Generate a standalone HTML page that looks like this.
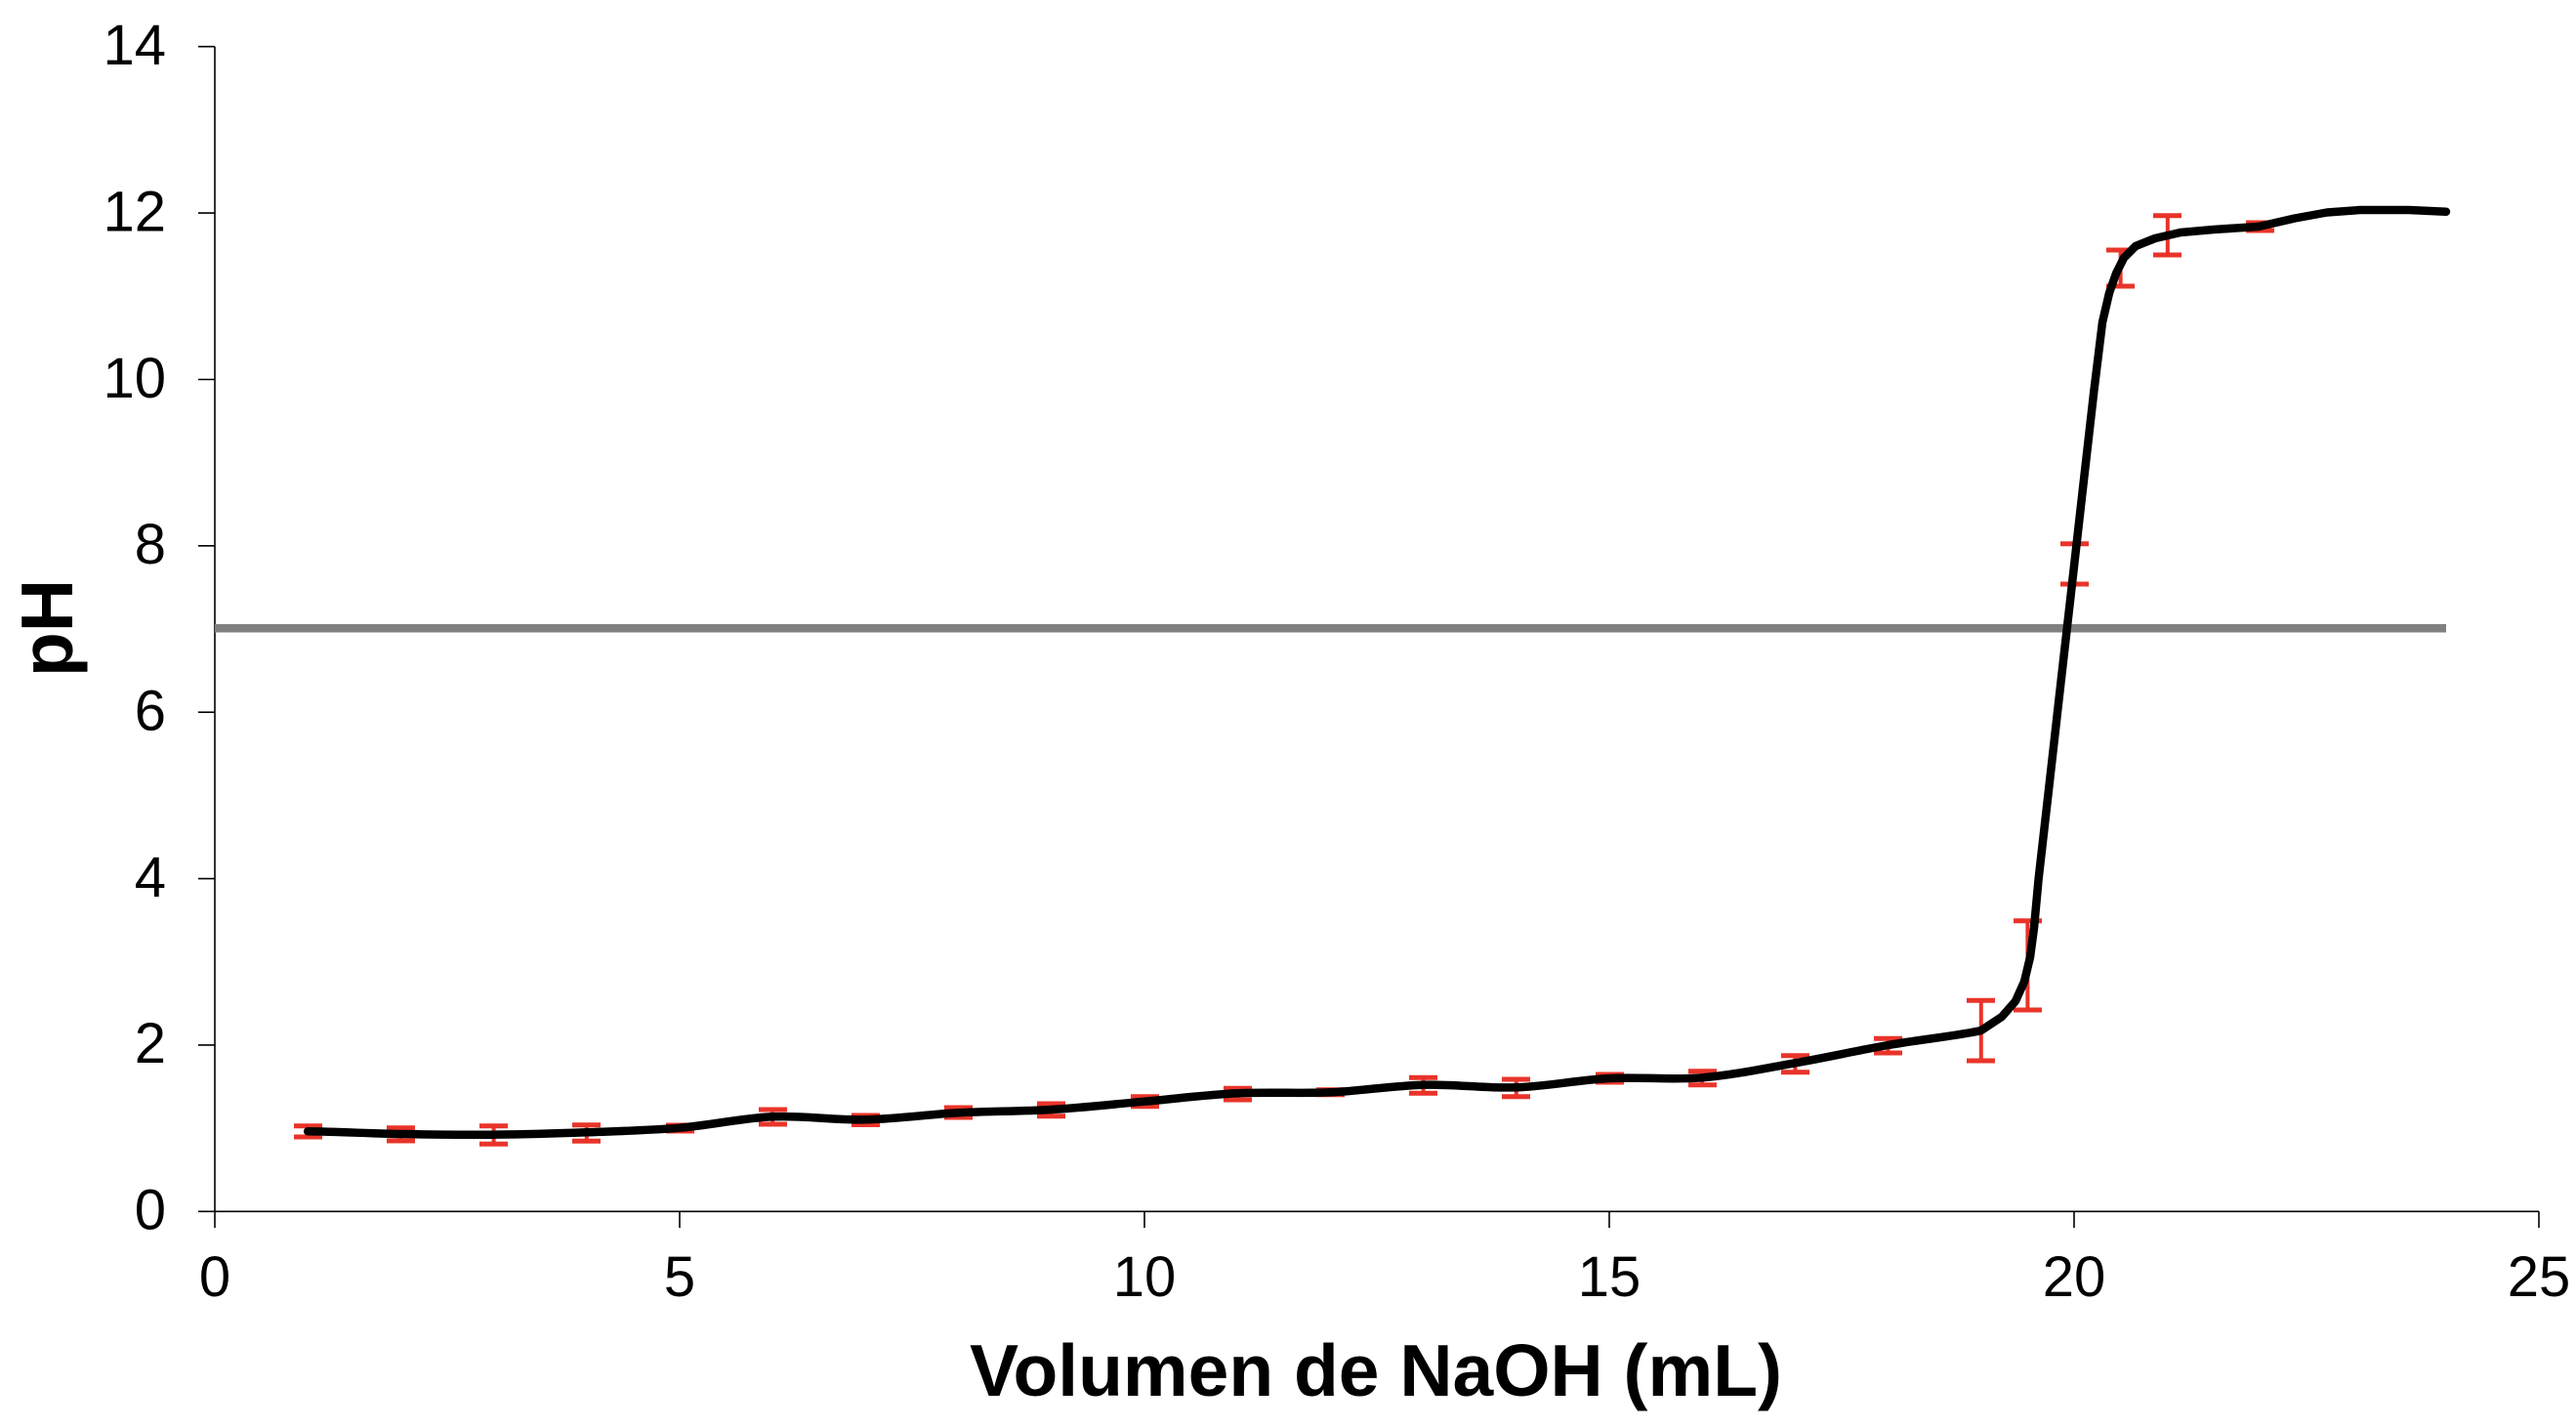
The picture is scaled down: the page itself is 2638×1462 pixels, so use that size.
<!DOCTYPE html>
<html>
<head>
<meta charset="utf-8">
<style>
  html, body { margin: 0; padding: 0; background: #ffffff; }
  svg { display: block; }
  text { font-family: "Liberation Sans", Arial, sans-serif; fill: #000; }
</style>
</head>
<body>
<svg width="2638" height="1462" viewBox="0 0 2638 1462" xmlns="http://www.w3.org/2000/svg">
  <rect x="0" y="0" width="2638" height="1462" fill="#ffffff"/>

  <!-- Axes -->
  <g stroke="#000" stroke-width="1.6" fill="none">
    <line x1="220" y1="47.7" x2="220" y2="1257"/>
    <line x1="203" y1="1240.3" x2="2600" y2="1240.3"/>
    <!-- y ticks -->
    <line x1="203" y1="47.7" x2="220" y2="47.7"/>
    <line x1="203" y1="218.1" x2="220" y2="218.1"/>
    <line x1="203" y1="388.5" x2="220" y2="388.5"/>
    <line x1="203" y1="558.8" x2="220" y2="558.8"/>
    <line x1="203" y1="729.2" x2="220" y2="729.2"/>
    <line x1="203" y1="899.6" x2="220" y2="899.6"/>
    <line x1="203" y1="1069.9" x2="220" y2="1069.9"/>
    <!-- x ticks -->
    <line x1="696" y1="1240.3" x2="696" y2="1257"/>
    <line x1="1172" y1="1240.3" x2="1172" y2="1257"/>
    <line x1="1648" y1="1240.3" x2="1648" y2="1257"/>
    <line x1="2124" y1="1240.3" x2="2124" y2="1257"/>
    <line x1="2600" y1="1240.3" x2="2600" y2="1257"/>
  </g>

  <!-- Y tick labels -->
  <g font-size="58" text-anchor="end">
    <text x="170" y="66">14</text>
    <text x="170" y="236.5">12</text>
    <text x="170" y="407">10</text>
    <text x="170" y="577">8</text>
    <text x="170" y="747.5">6</text>
    <text x="170" y="918">4</text>
    <text x="170" y="1088">2</text>
    <text x="170" y="1258.5">0</text>
  </g>

  <!-- X tick labels -->
  <g font-size="58" text-anchor="middle">
    <text x="220" y="1327">0</text>
    <text x="696" y="1327">5</text>
    <text x="1172" y="1327">10</text>
    <text x="1648" y="1327">15</text>
    <text x="2124" y="1327">20</text>
    <text x="2600" y="1327">25</text>
  </g>

  <!-- Axis titles -->
  <text x="1409" y="1429" font-size="75" font-weight="bold" text-anchor="middle">Volumen de NaOH (mL)</text>
  <text transform="translate(74,643) rotate(-90)" font-size="75" font-weight="bold" text-anchor="middle">pH</text>

  <!-- pH 7 reference line -->
  <line x1="220" y1="643.3" x2="2505" y2="643.3" stroke="#808080" stroke-width="8.5"/>

  <!-- Error bars -->
  <g stroke="#E9342A" fill="none">
    <g stroke-width="4">
      <line x1="315.2" y1="1152.7" x2="315.2" y2="1164"/>
      <line x1="410.4" y1="1154.7" x2="410.4" y2="1168"/>
      <line x1="505.6" y1="1152.7" x2="505.6" y2="1171.3"/>
      <line x1="600.8" y1="1151.7" x2="600.8" y2="1168.3"/>
      <line x1="696" y1="1152" x2="696" y2="1158"/>
      <line x1="791.2" y1="1136" x2="791.2" y2="1151"/>
      <line x1="886.4" y1="1142" x2="886.4" y2="1151.5"/>
      <line x1="981.6" y1="1134" x2="981.6" y2="1144"/>
      <line x1="1076.8" y1="1130" x2="1076.8" y2="1142.7"/>
      <line x1="1172" y1="1122.7" x2="1172" y2="1132.7"/>
      <line x1="1267.2" y1="1114.3" x2="1267.2" y2="1126"/>
      <line x1="1362.4" y1="1115.7" x2="1362.4" y2="1120.8"/>
      <line x1="1457.6" y1="1103.3" x2="1457.6" y2="1119.3"/>
      <line x1="1552.8" y1="1105" x2="1552.8" y2="1122.7"/>
      <line x1="1648" y1="1100" x2="1648" y2="1108"/>
      <line x1="1743.2" y1="1096.7" x2="1743.2" y2="1110.7"/>
      <line x1="1838.4" y1="1080.7" x2="1838.4" y2="1097.7"/>
      <line x1="1933.6" y1="1063.3" x2="1933.6" y2="1078"/>
      <line x1="2028.8" y1="1024.3" x2="2028.8" y2="1086"/>
      <line x1="2076.4" y1="942.7" x2="2076.4" y2="1034"/>
      <line x1="2124.4" y1="556.7" x2="2124.4" y2="598"/>
      <line x1="2171.6" y1="256" x2="2171.6" y2="293"/>
      <line x1="2219.8" y1="220.7" x2="2219.8" y2="261"/>
      <line x1="2314.4" y1="228" x2="2314.4" y2="236"/>
    </g>
    <g stroke-width="5">
      <path d="M301,1152.7h29 M301,1164h29"/>
      <path d="M396,1154.7h29 M396,1168h29"/>
      <path d="M491,1152.7h29 M491,1171.3h29"/>
      <path d="M586,1151.7h29 M586,1168.3h29"/>
      <path d="M682,1152h29 M682,1158h29"/>
      <path d="M777,1136h29 M777,1151h29"/>
      <path d="M872,1142h29 M872,1151.5h29"/>
      <path d="M967,1134h29 M967,1144h29"/>
      <path d="M1062,1130h29 M1062,1142.7h29"/>
      <path d="M1158,1122.7h29 M1158,1132.7h29"/>
      <path d="M1253,1114.3h29 M1253,1126h29"/>
      <path d="M1348,1115.7h29 M1348,1120.8h29"/>
      <path d="M1443,1103.3h29 M1443,1119.3h29"/>
      <path d="M1538,1105h29 M1538,1122.7h29"/>
      <path d="M1634,1100h29 M1634,1108h29"/>
      <path d="M1729,1096.7h29 M1729,1110.7h29"/>
      <path d="M1824,1080.7h29 M1824,1097.7h29"/>
      <path d="M1919,1063.3h29 M1919,1078h29"/>
      <path d="M2014,1024.3h29 M2014,1086h29"/>
      <path d="M2062,942.7h29 M2062,1034h29"/>
      <path d="M2110,556.7h29 M2110,598h29"/>
      <path d="M2157,256h29 M2157,293h29"/>
      <path d="M2205,220.7h29 M2205,261h29"/>
      <path d="M2300,228h29 M2300,236h29"/>
    </g>
  </g>

  <!-- Titration curve -->
  <path fill="none" stroke="#000" stroke-width="8.5" stroke-linejoin="round" stroke-linecap="round"
    d="M315.2,1158.3 C346.9,1158.75 378.7,1160.43 410.4,1161 C442.1,1161.57 473.9,1161.98 505.6,1161.7 C537.3,1161.42 569.1,1160.47 600.8,1159.3 C632.5,1158.13 664.3,1157.37 696,1154.7 C727.7,1152.03 759.5,1144.7 791.2,1143.3 C822.9,1141.9 854.7,1146.97 886.4,1146.3 C918.1,1145.63 949.9,1141.02 981.6,1139.3 C1013.3,1137.58 1045.1,1137.93 1076.8,1136 C1108.5,1134.07 1140.3,1130.48 1172,1127.7 C1203.7,1124.92 1235.5,1120.87 1267.2,1119.3 C1298.9,1117.73 1330.7,1119.73 1362.4,1118.3 C1394.1,1116.87 1425.9,1111.53 1457.6,1110.7 C1489.3,1109.87 1521.1,1114.42 1552.8,1113.3 C1584.5,1112.18 1616.3,1105.67 1648,1104 C1679.7,1102.33 1711.5,1105.92 1743.2,1103.3 C1774.9,1100.68 1806.7,1093.85 1838.4,1088.3 C1870.1,1082.75 1901.9,1075.55 1933.6,1070 C1965.3,1064.45 2009.4,1059.8 2028.8,1055 L2050,1041 L2064,1025 L2073,1005 L2079,980 L2083,950 L2087.6,900 L2099,800 L2110.3,700 L2121.7,600 L2133,500 L2144.4,400 L2153,330 L2160,300 L2167,280 L2175,264 L2187,252 L2207,244 L2233,238 L2267,235 L2313,232 L2350,223.5 L2383,217.5 L2417,215 L2467,215 L2505,216.7"/>
</svg>
</body>
</html>
